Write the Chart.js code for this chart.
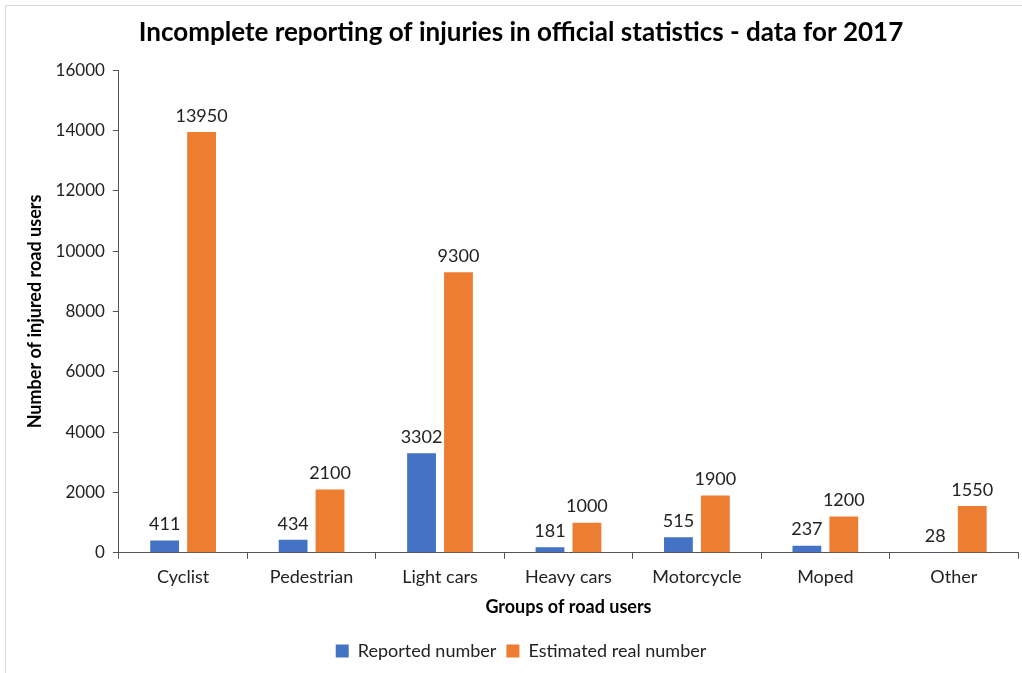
<!DOCTYPE html>
<html>
<head>
<meta charset="utf-8">
<script src="https://cdn.jsdelivr.net/npm/chart.js@4/dist/chart.umd.min.js"></script>
<style>
  html, body { margin: 0; padding: 0; background: #fff; }
  #wrap { position: relative; width: 1022px; height: 673px; overflow: hidden; }
  #frame { position: absolute; left: 5px; top: 5px; width: 1030px; height: 700px; border: 1px solid #d9d9d9; box-sizing: border-box; }
  canvas { position: absolute; left: 0; top: 0; }
</style>
</head>
<body>
<div id="wrap">
  <div id="frame"></div>
  <canvas id="chart" width="1022" height="673"></canvas>
</div>
<script>
/* injuries 2017 — reported vs estimated */

const categories = ['Cyclist', 'Pedestrian', 'Light cars', 'Heavy cars', 'Motorcycle', 'Moped', 'Other'];
const reported   = [411, 434, 3302, 181, 515, 237, 28];
const estimated  = [13950, 2100, 9300, 1000, 1900, 1200, 1550];
const yTicks     = [0, 2000, 4000, 6000, 8000, 10000, 12000, 14000, 16000];

const FONT = 'Lato, "Open Sans", "Liberation Sans", sans-serif';
const TEXT = '#222';

// value labels above each bar
const barLabels = {
  id: 'barLabels',
  afterDatasetsDraw(chart) {
    const ctx = chart.ctx;
    ctx.save();
    ctx.font = '18px ' + FONT;
    ctx.fillStyle = TEXT;
    ctx.textAlign = 'center';
    ctx.textBaseline = 'bottom';
    chart.data.datasets.forEach((ds, i) => {
      chart.getDatasetMeta(i).data.forEach((bar, j) => {
        ctx.fillText(ds.data[j], bar.x, bar.y - 7);
      });
    });
    ctx.restore();
  }
};

new Chart(document.getElementById('chart'), {
  type: 'bar',
  data: {
    labels: categories,
    datasets: [
      { label: 'Reported number',       data: reported,  backgroundColor: '#4472c4', categoryPercentage: 0.575, barPercentage: 0.78 },
      { label: 'Estimated real number', data: estimated, backgroundColor: '#ed7d31', categoryPercentage: 0.575, barPercentage: 0.78 }
    ]
  },
  options: {
    responsive: false,
    animation: false,
    layout: { padding: { left: 24, right: 4, top: 0, bottom: 3 } },
    plugins: {
      title: {
        display: true,
        text: 'Incomplete reporting of injuries in official statistics - data for 2017',
        color: '#000',
        font: { family: FONT, size: 26, weight: 'bold' },
        padding: { top: 17, bottom: 22 }
      },
      legend: {
        position: 'bottom',
        labels: { color: TEXT, font: { family: FONT, size: 18 }, boxWidth: 13, boxHeight: 13, padding: 10 }
      },
      tooltip: { enabled: false }
    },
    scales: {
      x: {
        grid: { display: true, drawOnChartArea: false, drawTicks: true, tickLength: 6, color: '#555', offset: true },
        border: { color: '#555' },
        ticks: { color: TEXT, font: { family: FONT, size: 18 }, padding: 8 },
        title: { display: true, text: 'Groups of road users', color: '#000', font: { family: FONT, size: 18, weight: 'bold' }, padding: { top: 0, bottom: 14 } }
      },
      y: {
        min: 0,
        max: 16000,
        afterBuildTicks: axis => { axis.ticks = yTicks.map(v => ({ value: v })); },
        grid: { display: true, drawOnChartArea: false, drawTicks: true, tickLength: 6, color: '#555' },
        border: { color: '#555' },
        ticks: { color: TEXT, font: { family: FONT, size: 17 }, padding: 8, callback: v => String(v) },
        title: { display: true, text: 'Number of injured road users', color: '#000', font: { family: FONT, size: 18, weight: 'bold' }, padding: { top: 0, bottom: 2 } }
      }
    }
  },
  plugins: [barLabels]
});
</script>
</body>
</html>
